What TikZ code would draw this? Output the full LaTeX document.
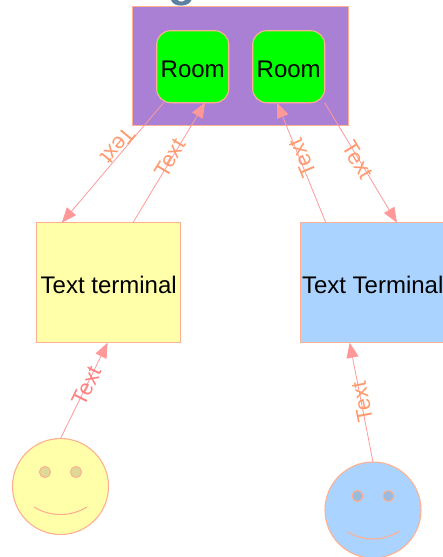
\documentclass[tikz,border=0pt]{standalone}
\usepackage{fontspec}
\setmainfont{Liberation Sans}
\usetikzlibrary{arrows.meta}
\definecolor{edgeline}{HTML}{FF9999}
\definecolor{nodeline}{HTML}{FFB090}
\definecolor{lbl}{HTML}{FF9A6E}
\definecolor{lblpink}{HTML}{FF8080}
\definecolor{purplefill}{HTML}{AA80D5}
\definecolor{roomgreen}{HTML}{00FF00}
\definecolor{yellowfill}{HTML}{FFFFAA}
\definecolor{bluefill}{HTML}{AAD4FF}
\definecolor{eyeyellow}{HTML}{DDDA95}
\definecolor{eyeblue}{HTML}{99BBDD}
\definecolor{titleblue}{HTML}{5C80A0}
\tikzset{
  box/.style={draw=nodeline,line width=1.1pt,inner sep=0pt,outer sep=0pt,font=\fontsize{24}{24}\selectfont,text=black,text height=22pt,text depth=0pt},
  room/.style={box,fill=roomgreen,minimum width=72pt,minimum height=72pt,rounded corners=14pt},
  terminal/.style={box,minimum width=144pt,minimum height=120pt},
  face/.style={draw=nodeline,line width=1.1pt,circle,inner sep=0pt,outer sep=0pt,minimum size=96pt},
  eye/.style={draw=nodeline,line width=1.1pt,circle,inner sep=0pt,outer sep=0pt,minimum size=11pt},
  mouth/.style={draw=nodeline,line width=1.1pt},
  link/.style={draw=edgeline,line width=0.8pt,-{Triangle[length=15pt,width=12pt,fill=edgeline]}},
  linklabel/.style={text=lbl,inner sep=0pt,font=\fontsize{22}{22}\selectfont},
}
\begin{document}
\begin{tikzpicture}[x=1pt,y=-1pt]
\useasboundingbox (0,0) rectangle (443,557);
\clip (0,0) rectangle (443,557);
\node[anchor=base,text=titleblue,font=\fontsize{45}{45}\selectfont\bfseries,inner sep=0pt] (titleg) at (182,-3.5) {g};
\node[draw=nodeline,line width=1.1pt,fill=purplefill,minimum width=216pt,minimum height=119pt,inner sep=0pt,outer sep=0pt] (hall) at (240.7,66.2) {};
\node[room] (room1) at (192.7,66.7) {Room};
\node[room] (room2) at (288.7,66.7) {Room};
\node[terminal,fill=yellowfill] (term1) at (108.7,282.7) {Text terminal};
\node[terminal,fill=bluefill] (term2) at (372.7,282.7) {Text Terminal};
\node[face,fill=yellowfill] (face1) at (60.5,486.5) {};
\node[eye,fill=eyeyellow] (eye1a) at (45,472) {};
\node[eye,fill=eyeyellow] (eye1b) at (76,472) {};
\coordinate (mouth1a) at (34,507);
\coordinate (mouth1b) at (87,507);
\draw[mouth] (mouth1a) .. controls (50,517) and (71,517) .. (mouth1b);
\node[face,fill=bluefill] (face2) at (373,510) {};
\node[eye,fill=eyeblue] (eye2a) at (357.5,496) {};
\node[eye,fill=eyeblue] (eye2b) at (388.5,496) {};
\coordinate (mouth2a) at (347,531.5);
\coordinate (mouth2b) at (399,531.5);
\draw[mouth] (mouth2a) .. controls (363,541.5) and (383,541.5) .. (mouth2b);
\draw[link] (room1.-129.8) -- (term1.128);
\draw[link] (term1.68.2) -- (room1.-71.6);
\draw[link] (term2.128.7) -- (room2.-108.4);
\draw[link] (room2.south east) -- (term2.68.2);
\draw[link] (face1.north) -- (term1.-91);
\draw[link] (face2.north) -- (term2.-111.8);
\node[linklabel,rotate=-130] (lab1) at (118,146) {Text};
\node[linklabel,rotate=59] (lab2) at (170,158) {Text};
\node[linklabel,rotate=113] (lab3) at (302,158) {Text};
\node[linklabel,rotate=-59] (lab4) at (358,160) {Text};
\node[linklabel,rotate=64,text=lblpink] (lab5) at (87,386) {Text};
\node[linklabel,rotate=101] (lab6) at (362,402) {Text};
\end{tikzpicture}
\end{document}
